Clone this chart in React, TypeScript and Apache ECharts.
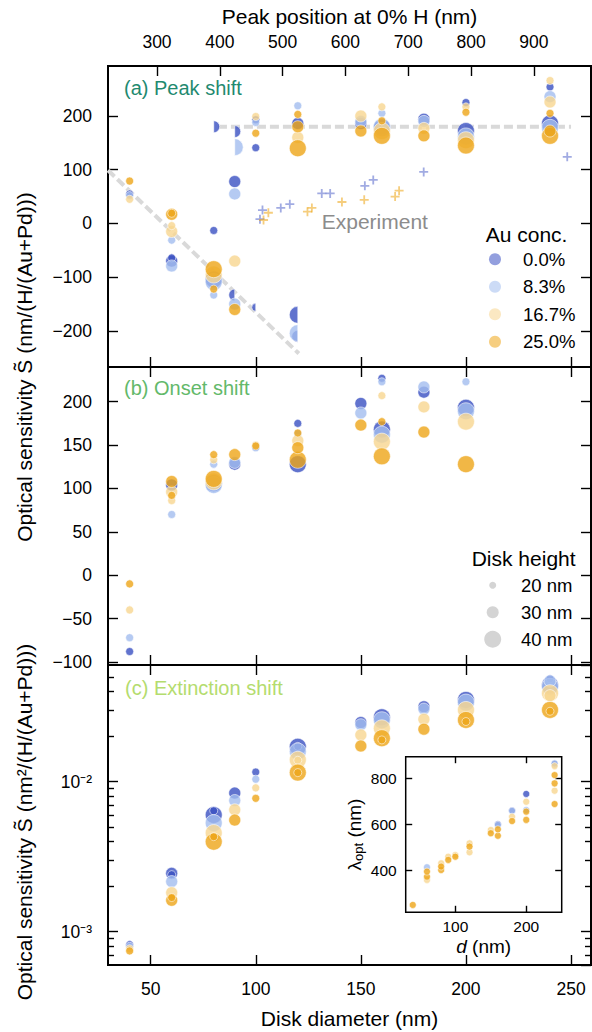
import React, { useEffect, useRef } from 'react';
import * as echarts from 'echarts';

const FONT = '"Liberation Sans", Arial, Helvetica, sans-serif';

// ---------- categories / ticks ----------
const concNames = ['0.0%', '8.3%', '16.7%', '25.0%'];
const heightNames = ['20 nm', '30 nm', '40 nm'];
const diameterTicks = [50, 100, 150, 200, 250];
const peakPosTicks = [300, 400, 500, 600, 700, 800, 900];
const peakShiftTicks = [-200, -100, 0, 100, 200];
const onsetShiftTicks = [-100, -50, 0, 50, 100, 150, 200];
const logMinorTicks = [7e-4, 8e-4, 9e-4, 2e-3, 3e-3, 4e-3, 5e-3, 6e-3, 7e-3, 8e-3, 9e-3, 2e-2, 3e-2, 4e-2, 5e-2];
const insetXTicks = [100, 200];
const insetYTicks = [400, 600, 800];

// ---------- (a) Peak shift: [diameter nm, height nm, S] ----------
const peak0 = [[40, 20, 55], [60, 20, -64], [60, 30, -70], [80, 20, -13], [80, 40, -104], [90, 30, 78], [100, 20, 193], [100, 20, 141], [120, 30, 186], [150, 30, 186], [160, 40, 178], [180, 30, 194], [200, 20, 225], [200, 40, 172], [240, 20, 254], [240, 40, 186]];
const peak1 = [[40, 20, 52], [60, 20, -31], [60, 30, -79], [80, 40, -109], [80, 20, -133], [90, 30, 55], [90, 30, -150], [100, 20, 188], [120, 20, 219], [150, 30, 190], [160, 20, 205], [160, 40, 180], [180, 30, 190], [200, 40, 162], [240, 30, 236], [240, 40, 178]];
const peak2 = [[40, 20, 45], [60, 20, -4], [60, 30, -15], [80, 40, -95], [90, 30, -70], [100, 20, 199], [120, 30, 160], [150, 30, 200], [160, 20, 217], [160, 40, 172], [180, 30, 177], [200, 20, 217], [200, 40, 155], [240, 20, 266], [240, 30, 226]];
const peak3 = [[40, 20, 79], [60, 20, 19], [60, 30, 17], [80, 40, -85], [80, 20, -122], [90, 30, -160], [100, 20, 168], [120, 20, 203], [120, 30, 180], [120, 40, 140], [150, 30, 172], [160, 20, 191], [160, 40, 163], [180, 30, 163], [200, 20, 207], [200, 40, 145], [240, 20, 205], [240, 30, 172], [240, 40, 163]];
// points of (a) that are cut on their left side (upper branch) / right side (lower branch)
const peakUpperCut0 = [[80, 30, 180], [90, 30, 171]];
const peakLowerCut0 = [[90, 30, -133], [100, 20, -156], [120, 40, -170], [120, 30, -210]];
const peakUpperCut1 = [[90, 40, 142]];
const peakLowerCut1 = [[120, 40, -204]];
// guide lines and experiment: [diameter, S]
const plateauGuide = [[82, 180], [250, 180]];
const dipoleGuide = [[29.7, 99], [120.5, -242]];
const experiment0 = [[103.2, 25], [102, 8], [111.9, 29], [116.2, 36], [131.4, 56], [135.4, 56], [151.9, 70], [155.9, 81], [179.9, 96], [248.2, 124]];
const experiment25 = [[106, 20], [103.7, 6.5], [124.6, 22], [126.7, 29], [141, 40], [151.6, 44], [166.3, 50], [168.2, 61]];

// ---------- (b) Onset shift ----------
const onset0 = [[40, 20, -88], [60, 30, 104], [80, 40, 106], [90, 30, 128], [100, 20, 148], [120, 20, 175], [120, 40, 128], [150, 30, 198], [160, 20, 227], [160, 40, 168], [180, 30, 211], [200, 40, 193]];
const onset1 = [[40, 20, -72], [60, 20, 70], [80, 20, 128], [80, 40, 104], [90, 30, 130], [100, 20, 147], [120, 20, 163], [150, 30, 187], [160, 20, 223], [160, 40, 162], [180, 30, 217], [200, 20, 223], [200, 40, 189]];
const onset2 = [[40, 20, -40], [60, 20, 86], [60, 30, 96], [80, 20, 133], [80, 40, 108], [100, 20, 150], [120, 30, 155], [160, 20, 207], [160, 40, 154], [180, 30, 194], [200, 40, 177]];
const onset3 = [[40, 20, -10], [60, 20, 92], [60, 30, 108], [80, 20, 139], [80, 40, 111], [90, 30, 139], [100, 20, 149], [120, 20, 164], [120, 30, 147], [120, 40, 133], [150, 30, 173], [160, 20, 177], [160, 40, 137], [180, 30, 165], [200, 40, 128]];

// ---------- (c) Extinction shift ----------
const ext0 = [[40, 20, 8.2e-4], [60, 20, 2.4e-3], [60, 30, 2.45e-3], [80, 20, 6.4e-3], [80, 40, 6.0e-3], [90, 30, 8.4e-3], [100, 20, 0.0116], [120, 20, 0.0172], [120, 40, 0.0171], [150, 30, 0.0248], [160, 40, 0.0269], [180, 30, 0.0316], [200, 40, 0.0351], [240, 20, 0.0485], [240, 40, 0.044]];
const ext1 = [[40, 20, 8.0e-4], [60, 30, 2.16e-3], [80, 40, 5.3e-3], [90, 30, 7.5e-3], [100, 20, 0.0104], [120, 40, 0.0159], [150, 30, 0.024], [160, 40, 0.0257], [180, 30, 0.0305], [200, 40, 0.0337], [240, 30, 0.047], [240, 40, 0.043]];
const ext2 = [[40, 20, 7.7e-4], [60, 30, 1.82e-3], [80, 40, 4.55e-3], [90, 30, 6.5e-3], [100, 20, 9.1e-3], [120, 20, 0.0139], [120, 40, 0.014], [150, 30, 0.0205], [160, 40, 0.0227], [180, 30, 0.0261], [200, 40, 0.0301], [240, 30, 0.0375], [240, 40, 0.0389]];
const ext3 = [[40, 20, 7.45e-4], [60, 20, 1.69e-3], [60, 30, 1.62e-3], [80, 20, 4.3e-3], [80, 40, 3.98e-3], [90, 30, 5.55e-3], [100, 20, 7.75e-3], [120, 20, 0.0115], [120, 40, 0.0115], [150, 30, 0.0173], [160, 20, 0.019], [160, 40, 0.0195], [180, 30, 0.0224], [200, 20, 0.0252], [200, 40, 0.0258], [240, 20, 0.0295], [240, 40, 0.0301]];

// ---------- inset: [diameter, lambda_opt] ----------
const lam0 = [[160, 600], [180, 660], [200, 732], [240, 862]];
const lam1 = [[60, 413], [160, 597], [180, 658], [200, 662], [240, 865]];
const lam2 = [[60, 358], [80, 430], [90, 459], [100, 466], [120, 478], [120, 517], [150, 575], [180, 633], [200, 698], [240, 746], [240, 853]];
const lam3 = [[40, 249], [60, 372], [60, 394], [80, 401], [80, 416], [90, 445], [100, 459], [120, 503], [150, 561], [160, 550], [160, 578], [180, 614], [200, 619], [200, 655], [240, 688], [240, 778], [240, 814]];

// ---------- styles ----------
const concColors = ['#3a50c2', '#a3bdef', '#f7d690', '#eea518'];
const sizeOf = (h: number) => (h <= 20 ? 8 : h <= 30 ? 12 : 17);
const RIGHT_HALF = 'path://M0,0 A10,10 0 0 1 0,20 Z';
const LEFT_HALF = 'path://M0,0 A10,10 0 0 0 0,20 Z';
const PLUS = 'path://M4,0H6V4H10V6H6V10H4V6H0V4H4Z';

function items(full: number[][], cutLeft: number[][] = [], cutRight: number[][] = []) {
  const out: any[] = [];
  full.forEach(([d, h, v]) => out.push({ h, value: [d, v], symbolSize: sizeOf(h) }));
  cutLeft.forEach(([d, h, v]) => {
    const s = sizeOf(h);
    out.push({ h, value: [d, v], symbol: RIGHT_HALF, symbolSize: [s / 2, s], symbolOffset: [s / 4, 0] });
  });
  cutRight.forEach(([d, h, v]) => {
    const s = sizeOf(h);
    out.push({ h, value: [d, v], symbol: LEFT_HALF, symbolSize: [s / 2, s], symbolOffset: [-s / 4, 0] });
  });
  out.sort((a, b) => b.h - a.h);
  return out.map(({ h, ...rest }) => rest);
}

const scatter = (ci: number, xi: number, yi: number, data: any[], size?: number) => ({
  type: 'scatter',
  name: concNames[ci],
  xAxisIndex: xi,
  yAxisIndex: yi,
  data,
  symbol: 'circle',
  symbolSize: size || 8,
  itemStyle: { color: concColors[ci], opacity: 0.8, borderColor: '#fff', borderWidth: 0.7 },
  z: 3,
});

const tickStyle = { color: '#000', width: 1.4 };
const minusFmt = (v: number) => (v < 0 ? '\u2212' + Math.abs(v) : String(v));
const supMap: Record<string, string> = { '-': '\u207b', '0': '\u2070', '1': '\u00b9', '2': '\u00b2', '3': '\u00b3', '4': '\u2074' };
const logFmt = (v: number) => '10' + String(Math.round(Math.log10(v))).split('').map((c) => supMap[c] || c).join('');

const DMIN = 29.7;
const DMAX = 259.5;

function diamAxis(grid: number, pos: string, showLabels: boolean, extra: any = {}) {
  return {
    type: 'value', gridIndex: grid, position: pos, min: DMIN, max: DMAX,
    axisLine: { show: false, onZero: false },
    axisTick: { show: true, inside: true, length: 10, customValues: diameterTicks, lineStyle: tickStyle },
    axisLabel: { show: showLabels, customValues: diameterTicks, fontSize: 17.5, color: '#000', margin: 14.5 },
    splitLine: { show: false },
    ...extra,
  };
}

function valAxis(grid: number, pos: string, min: number, max: number, ticks: number[], showLabels: boolean, len = 10) {
  return {
    type: 'value', gridIndex: grid, position: pos, min, max,
    axisLine: { show: false, onZero: false },
    axisTick: { show: true, inside: true, length: len, customValues: ticks, lineStyle: tickStyle },
    axisLabel: { show: showLabels, customValues: ticks, fontSize: 17.5, color: '#000', margin: 16, formatter: minusFmt },
    splitLine: { show: false },
  };
}

function logAxis(pos: string, showLabels: boolean) {
  return {
    type: 'log', gridIndex: 2, position: pos, min: 6e-4, max: 6e-2, logBase: 10,
    axisLine: { show: false, onZero: false },
    axisTick: { show: true, inside: true, length: 10, lineStyle: tickStyle },
    axisLabel: { show: showLabels, showMinLabel: false, showMaxLabel: false, fontSize: 17.5, color: '#000', margin: 16, formatter: logFmt },
    splitLine: { show: false },
    minorTick: { show: false },
  };
}

function minorLogAxis(pos: string) {
  return {
    type: 'value', gridIndex: 2, position: pos, min: Math.log10(6e-4), max: Math.log10(6e-2),
    axisLine: { show: false, onZero: false },
    axisTick: { show: true, inside: true, length: 6, customValues: logMinorTicks.map((v) => Math.log10(v)), lineStyle: tickStyle },
    axisLabel: { show: false },
    splitLine: { show: false },
  };
}

function insetAxis(dim: 'x' | 'y', pos: string, showLabels: boolean, extra: any = {}) {
  const isX = dim === 'x';
  const ticks = isX ? insetXTicks : insetYTicks;
  return {
    type: 'value', gridIndex: 3, position: pos,
    min: isX ? 30 : 217, max: isX ? 250 : 894,
    axisLine: { show: false, onZero: false },
    axisTick: { show: true, inside: true, length: 6.5, customValues: ticks, lineStyle: tickStyle },
    axisLabel: { show: showLabels, customValues: ticks, fontSize: 15.5, color: '#000', margin: isX ? 6 : 9 },
    splitLine: { show: false },
    ...extra,
  };
}

const gridBase = { show: true, borderColor: '#000', borderWidth: 2, backgroundColor: 'transparent' };

function buildOption() {
  const series: any[] = [];
  // guide lines
  series.push({
    type: 'line', name: 'guide-plateau', xAxisIndex: 0, yAxisIndex: 0, data: plateauGuide, symbol: 'none',
    lineStyle: { color: '#d9d9d9', width: 4, type: [9, 4] }, z: 1, silent: true,
  });
  series.push({
    type: 'line', name: 'guide-dipole', xAxisIndex: 0, yAxisIndex: 0, data: dipoleGuide, symbol: 'none',
    lineStyle: { color: '#d9d9d9', width: 4, type: [9, 4] }, z: 1, silent: true,
  });
  // experiment crosses
  series.push({
    type: 'scatter', name: 'Experiment 0.0%', xAxisIndex: 0, yAxisIndex: 0, data: experiment0,
    symbol: PLUS, symbolSize: 9, itemStyle: { color: 'rgba(58,80,194,0.6)' }, z: 2,
  });
  series.push({
    type: 'scatter', name: 'Experiment 25.0%', xAxisIndex: 0, yAxisIndex: 0, data: experiment25,
    symbol: PLUS, symbolSize: 9, itemStyle: { color: 'rgba(238,165,24,0.7)' }, z: 2,
  });

  const peak = [items(peak0, peakUpperCut0, peakLowerCut0), items(peak1, peakUpperCut1, peakLowerCut1), items(peak2), items(peak3)];
  const onset = [items(onset0), items(onset1), items(onset2), items(onset3)];
  const ext = [items(ext0), items(ext1), items(ext2), items(ext3)];
  const lam = [lam0, lam1, lam2, lam3];
  for (let ci = 0; ci < 4; ci++) {
    series.push(scatter(ci, 0, 0, peak[ci]));
    series.push(scatter(ci, 2, 2, onset[ci]));
    series.push(scatter(ci, 4, 4, ext[ci]));
    series.push(scatter(ci, 6, 8, lam[ci], 7));
  }
  // disk height legend entries
  heightNames.forEach((n) => {
    series.push({ type: 'scatter', name: n, xAxisIndex: 2, yAxisIndex: 2, data: [], itemStyle: { color: '#c9c9c9' } });
  });

  // legend icon centred at x = 492.7, text starting at x = 521
  const heightLegend = (name: string, size: number, centerY: number) => ({
    show: true, orient: 'vertical', left: 492.7 - size / 2, top: centerY - 9.25, padding: 0,
    data: [{ name, icon: 'circle' }], itemWidth: size, itemHeight: size, selectedMode: false,
    textStyle: { fontSize: 18.5, color: '#000', fontFamily: FONT, padding: [0, 0, 0, 23.3 - size / 2] },
  });

  return {
    animation: false,
    backgroundColor: '#fff',
    textStyle: { fontFamily: FONT },
    grid: [
      { ...gridBase, left: 108, top: 66, width: 483, height: 301 },
      { ...gridBase, left: 108, top: 367, width: 483, height: 298 },
      { ...gridBase, left: 108, top: 665, width: 483, height: 300 },
      { show: true, borderColor: '#000', borderWidth: 1.5, backgroundColor: '#fff', left: 405.7, top: 756.7, width: 156, height: 155.6 },
    ],
    xAxis: [
      diamAxis(0, 'bottom', false),
      {
        type: 'value', gridIndex: 0, position: 'top', min: 222, max: 991,
        axisLine: { show: false, onZero: false },
        axisTick: { show: true, inside: true, length: 10, customValues: peakPosTicks, lineStyle: tickStyle },
        axisLabel: { show: true, customValues: peakPosTicks, fontSize: 17.5, color: '#000', margin: 15.5 },
        splitLine: { show: false },
        name: 'Peak position at 0% H (nm)', nameLocation: 'middle', nameGap: 39,
        nameTextStyle: { fontSize: 21, color: '#000' },
      },
      diamAxis(1, 'bottom', false),
      diamAxis(1, 'top', false),
      diamAxis(2, 'bottom', true, {
        name: 'Disk diameter (nm)', nameLocation: 'middle', nameGap: 43,
        nameTextStyle: { fontSize: 21, color: '#000' },
      }),
      diamAxis(2, 'top', false),
      insetAxis('x', 'bottom', true, {
        name: '{it|d} (nm)', nameLocation: 'middle', nameGap: 25,
        nameTextStyle: { fontSize: 19, color: '#000', rich: { it: { fontSize: 19, fontStyle: 'italic', color: '#000' } } },
      }),
      insetAxis('x', 'top', false),
    ],
    yAxis: [
      valAxis(0, 'left', -267, 293, peakShiftTicks, true),
      valAxis(0, 'right', -267, 293, peakShiftTicks, false),
      valAxis(1, 'left', -103.5, 240, onsetShiftTicks, true),
      valAxis(1, 'right', -103.5, 240, onsetShiftTicks, false),
      logAxis('left', true),
      logAxis('right', false),
      minorLogAxis('left'),
      minorLogAxis('right'),
      insetAxis('y', 'left', true, {
        name: '\u03bb{sub|opt} (nm)', nameLocation: 'middle', nameGap: 41, nameRotate: 90,
        nameTextStyle: {
          fontSize: 19, color: '#000',
          rich: { sub: { fontSize: 13, color: '#000', verticalAlign: 'bottom', padding: [8, 0, 0, 0] } },
        },
      }),
      insetAxis('y', 'right', false),
    ],
    legend: [
      {
        show: true, orient: 'vertical', left: 489, top: 249.75, padding: 0, itemGap: 8.5,
        itemWidth: 12, itemHeight: 12, selectedMode: false, icon: 'circle',
        data: concNames.map((n) => ({ name: n, itemStyle: { opacity: 0.55, borderWidth: 0 } })),
        textStyle: { fontSize: 18.5, color: '#000', fontFamily: FONT, padding: [0, 0, 0, 17] },
      },
      heightLegend('20 nm', 7, 585),
      heightLegend('30 nm', 12, 612),
      heightLegend('40 nm', 17, 639),
    ],
    graphic: [
      { type: 'text', x: 124, y: 87.5, style: { text: '(a) Peak shift', fill: '#1f8a70', fontSize: 20, fontFamily: FONT, verticalAlign: 'middle' } },
      { type: 'text', x: 124, y: 387.5, style: { text: '(b) Onset shift', fill: '#63b96a', fontSize: 20, fontFamily: FONT, verticalAlign: 'middle' } },
      { type: 'text', x: 125, y: 687.5, style: { text: '(c) Extinction shift', fill: '#b4dc6e', fontSize: 20, fontFamily: FONT, verticalAlign: 'middle' } },
      { type: 'text', x: 321.7, y: 221, style: { text: 'Experiment', fill: '#8c8c8c', fontSize: 21, fontFamily: FONT, verticalAlign: 'middle' } },
      { type: 'text', x: 485.7, y: 234, style: { text: 'Au conc.', fill: '#000', fontSize: 21, fontFamily: FONT, verticalAlign: 'middle' } },
      { type: 'text', x: 471.7, y: 558, style: { text: 'Disk height', fill: '#000', fontSize: 21, fontFamily: FONT, verticalAlign: 'middle' } },
      {
        type: 'text', x: 24, y: 367, rotation: Math.PI / 2,
        style: { text: 'Optical sensitivity S\u0303 (nm/(H/(Au+Pd)))', fill: '#000', fontSize: 21, fontFamily: FONT, align: 'center', verticalAlign: 'middle' },
      },
      {
        type: 'text', x: 24, y: 822, rotation: Math.PI / 2,
        style: { text: 'Optical sensitivity S\u0303 (nm\u00b2/(H/(Au+Pd)))', fill: '#000', fontSize: 21, fontFamily: FONT, align: 'center', verticalAlign: 'middle' },
      },
    ],
    series,
  };
}

export default function App() {
  const ref = useRef<HTMLDivElement>(null);
  useEffect(() => {
    document.body.style.margin = '0';
    if (!ref.current) return;
    const chart = echarts.init(ref.current, null, { renderer: 'svg' });
    chart.setOption(buildOption() as any);
    return () => chart.dispose();
  }, []);
  return <div ref={ref} style={{ width: 592, height: 1032 }} />;
}
